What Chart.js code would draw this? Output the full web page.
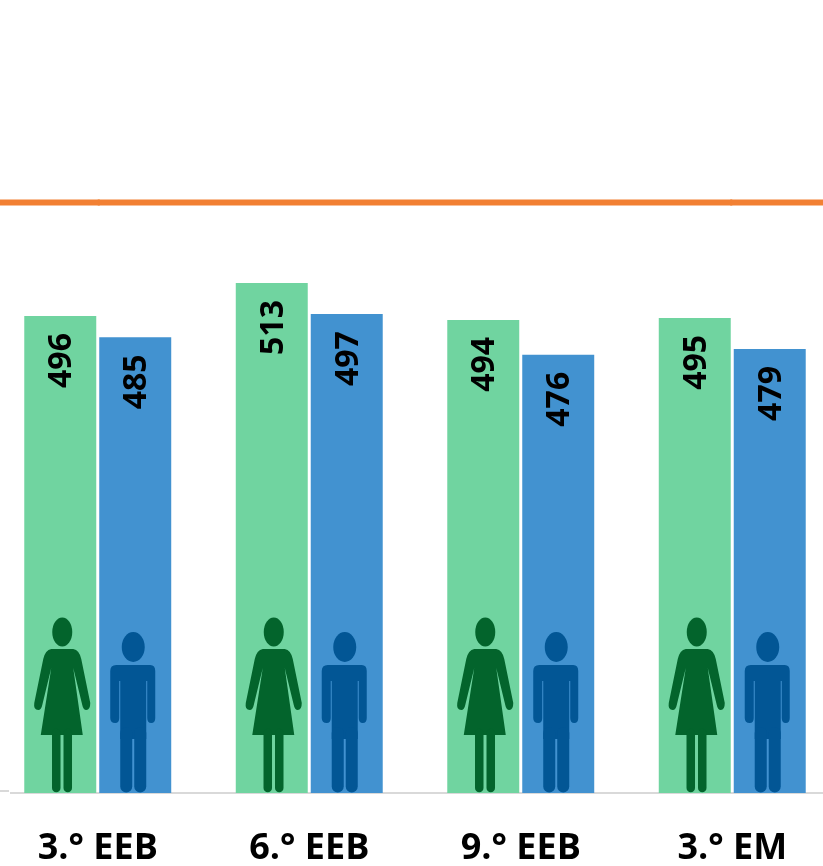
<!DOCTYPE html>
<html><head><meta charset="utf-8">
<script src="https://cdn.jsdelivr.net/npm/chart.js@4"></script>
<style>
html,body{margin:0;padding:0;background:#fff;overflow:hidden;width:823px;height:866px}
#wrap{position:absolute;left:-9px;top:0;width:847px;height:866px}
</style></head><body>
<div id="wrap"><canvas id="c"></canvas></div>
<script>
const categories = ['3.° EEB','6.° EEB','9.° EEB','3.° EM'];
const girls = [496,513,494,495];
const boys = [485,497,476,479];
const referenceLine = [554.5,554.5,554.5,554.5];

function woman(ctx,cx,base,col){
  const X=v=>cx+v, Y=v=>base+v;
  ctx.fillStyle=col;ctx.strokeStyle=col;ctx.lineJoin='round';ctx.lineCap='round';
  ctx.beginPath();ctx.ellipse(X(2),Y(-161),10,14.5,0,0,Math.PI*2);ctx.fill();
  ctx.beginPath();
  ctx.moveTo(X(-9),Y(-144));ctx.lineTo(X(13),Y(-144));
  ctx.quadraticCurveTo(X(19),Y(-143),X(21),Y(-134));
  ctx.lineTo(X(30),Y(-90));
  ctx.quadraticCurveTo(X(30),Y(-83),X(26),Y(-83));
  ctx.quadraticCurveTo(X(23),Y(-83),X(22),Y(-88));
  ctx.lineTo(X(13),Y(-125));
  ctx.lineTo(X(22.5),Y(-58));ctx.lineTo(X(-19.5),Y(-58));
  ctx.lineTo(X(-9),Y(-125));
  ctx.lineTo(X(-18),Y(-88));
  ctx.quadraticCurveTo(X(-19),Y(-83),X(-22),Y(-83));
  ctx.quadraticCurveTo(X(-27),Y(-83),X(-26),Y(-90));
  ctx.lineTo(X(-17),Y(-134));
  ctx.quadraticCurveTo(X(-15),Y(-143),X(-9),Y(-144));
  ctx.closePath();ctx.fill();
  ctx.lineWidth=8.5;
  [-4,7.5].forEach(v=>{ctx.beginPath();ctx.moveTo(X(v),Y(-60));ctx.lineTo(X(v),Y(-5));ctx.stroke();});
}
function man(ctx,cx,base,col){
  const X=v=>cx+v, Y=v=>base+v;
  ctx.fillStyle=col;ctx.strokeStyle=col;ctx.lineJoin='round';ctx.lineCap='round';
  ctx.beginPath();ctx.ellipse(X(-2),Y(-146),11.5,15,0,0,Math.PI*2);ctx.fill();
  ctx.beginPath();
  ctx.moveTo(X(-19),Y(-128));ctx.lineTo(X(15),Y(-128));
  ctx.quadraticCurveTo(X(20),Y(-128),X(20),Y(-122));
  ctx.lineTo(X(20),Y(-75));
  ctx.quadraticCurveTo(X(20),Y(-70),X(16),Y(-70));
  ctx.quadraticCurveTo(X(12),Y(-70),X(12),Y(-75));
  ctx.lineTo(X(12),Y(-112));ctx.lineTo(X(11),Y(-112));
  ctx.lineTo(X(11),Y(-54));ctx.lineTo(X(-15),Y(-54));
  ctx.lineTo(X(-15),Y(-112));ctx.lineTo(X(-16),Y(-112));
  ctx.lineTo(X(-16),Y(-75));
  ctx.quadraticCurveTo(X(-16),Y(-70),X(-20),Y(-70));
  ctx.quadraticCurveTo(X(-25),Y(-70),X(-25),Y(-75));
  ctx.lineTo(X(-25),Y(-122));
  ctx.quadraticCurveTo(X(-25),Y(-128),X(-19),Y(-128));
  ctx.closePath();ctx.fill();
  ctx.lineWidth=12;
  [-9,5].forEach(v=>{ctx.beginPath();ctx.moveTo(X(v),Y(-60));ctx.lineTo(X(v),Y(-6.5));ctx.stroke();});
}

const barExtras = {
  id:'barExtras',
  afterDatasetsDraw(chart){
    const ctx=chart.ctx, area=chart.chartArea, base=area.bottom;
    // carry the reference line from its first and last points out to the plot edges
    const pts=chart.getDatasetMeta(2).data, ds=chart.data.datasets[2];
    const first=pts[0], last=pts[pts.length-1];
    ctx.save();
    ctx.strokeStyle=ds.borderColor;ctx.lineWidth=ds.borderWidth;ctx.lineCap='butt';
    ctx.beginPath();
    ctx.moveTo(0,first.y);ctx.lineTo(first.x+2,first.y);
    ctx.moveTo(last.x-2,last.y);ctx.lineTo(area.right,last.y);
    ctx.stroke();
    ctx.restore();
    [0,1].forEach(i=>{
      const meta=chart.getDatasetMeta(i);
      meta.data.forEach((bar,j)=>{
        ctx.save();
        if(i===0) woman(ctx,bar.x,base,'#03642C'); else man(ctx,bar.x,base,'#025695');
        ctx.restore();
        ctx.save();
        ctx.translate(bar.x+2,bar.y+17);
        ctx.rotate(-Math.PI/2);
        ctx.fillStyle='#000';
        ctx.font='bold 32px "Open Sans"';
        ctx.textAlign='right';ctx.textBaseline='middle';
        ctx.fillText(String(chart.data.datasets[i].data[j]),0,0);
        ctx.restore();
      });
    });
  },
  afterDraw(chart){
    // the short axis stub at the far left sits a little above the main axis line
    const ctx=chart.ctx, b=chart.chartArea.bottom;
    ctx.save();
    ctx.fillStyle='#fff';ctx.fillRect(0,b-4,19,8);
    ctx.fillStyle='#D9D9D9';ctx.fillRect(0,b-3,18,2);
    ctx.restore();
  }
};

new Chart(document.getElementById('c'),{
  type:'bar',
  data:{labels:categories,datasets:[
    {label:'Meninas',data:girls,backgroundColor:'#70D4A0',order:2,barPercentage:0.96,categoryPercentage:0.709},
    {label:'Meninos',data:boys,backgroundColor:'#4292D0',order:2,barPercentage:0.96,categoryPercentage:0.709},
    {type:'line',label:'Referência',data:referenceLine,borderColor:'#F28033',borderWidth:6,pointRadius:0,order:1}
  ]},
  plugins:[barExtras],
  options:{
    responsive:true,maintainAspectRatio:false,animation:false,
    layout:{padding:{left:1}},
    plugins:{legend:{display:false},tooltip:{enabled:false},title:{display:false}},
    scales:{
      x:{position:'bottom',grid:{display:false,drawTicks:false},border:{color:'#D9D9D9',width:2},
         ticks:{color:'#000',font:{family:'"Open Sans"',weight:'bold',size:36},padding:34,maxRotation:0,autoSkip:false},
         afterFit(s){s.height=73;}},
      y:{display:false,min:250,max:659}
    }
  }
});
</script>
</body></html>
